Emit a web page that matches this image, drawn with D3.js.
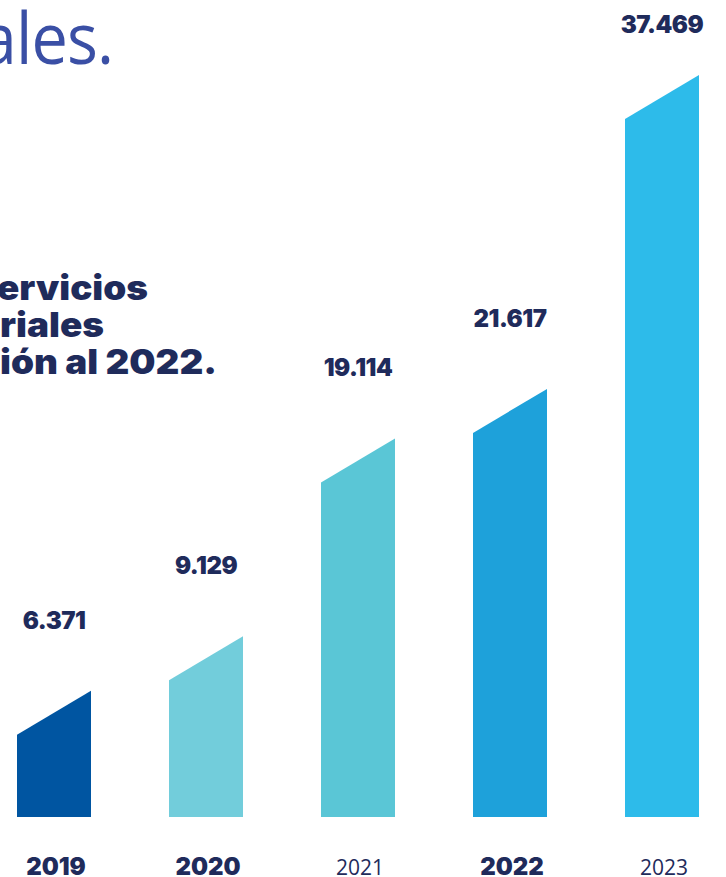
<!DOCTYPE html>
<html>
<head>
<meta charset="utf-8">
<script src="https://cdn.jsdelivr.net/npm/d3@7/dist/d3.min.js"></script>
<style>
  html, body { margin: 0; padding: 0; background: #ffffff; }
  svg { display: block; }
</style>
</head>
<body>
<svg id="chart" width="726" height="877"></svg>
<script>
// ---- data ----
const years = ["2019", "2020", "2021", "2022", "2023"];
const values = [6.371, 9.129, 19.114, 21.617, 37.469];
const valueLabels = ["6.371", "9.129", "19.114", "21.617", "37.469"];
const boldYears = [true, true, false, true, false];
const barColors = ["#0055a1", "#72cddb", "#5ac6d6", "#1ea1da", "#2dbbea"];
const titleText = "ales.";
const subtitleLines = ["ervicios", "riales", "ión al 2022."];

// ---- layout ----
const baseY = 817;
const topY = 75;
const slant = 44;
const navy = "#1f2b5b";

const svg = d3.select("#chart");

const x = d3.scaleBand()
  .domain(years)
  .range([17, 699])
  .paddingInner(78 / 152)
  .paddingOuter(0);

const y = d3.scaleLinear()
  .domain([0, d3.max(values)])
  .range([baseY, topY]);

const data = years.map((yr, i) => ({ year: yr, value: values[i], label: valueLabels[i], bold: boldYears[i], color: barColors[i] }));

// title fragment (cropped at the left edge)
svg.append("text")
  .attr("transform", "translate(113,64) scale(0.9,1)")
  .attr("text-anchor", "end")
  .attr("font-family", "'Open Sans', sans-serif")
  .attr("font-weight", 400)
  .attr("font-size", 72)
  .attr("letter-spacing", -1)
  .attr("fill", "#3a4fa5")
  .text(titleText);

// subtitle fragment (cropped at the left edge)
const subStart = [-3, 0, 0];
const subLen = [151, 104, 217];
const subBase = [300, 337, 374];
subtitleLines.forEach((t, i) => {
  svg.append("text")
    .attr("x", subStart[i]).attr("y", subBase[i])
    .attr("textLength", subLen[i])
    .attr("lengthAdjust", "spacingAndGlyphs")
    .attr("font-family", "Inter, 'Noto Sans', sans-serif")
    .attr("font-weight", 900)
    .attr("font-size", 34)
    .attr("fill", navy)
    .text(t);
});

// bars (slanted tops)
svg.selectAll("path.bar")
  .data(data)
  .join("path")
  .attr("class", "bar")
  .attr("fill", d => d.color)
  .attr("d", d => {
    const x0 = x(d.year), x1 = x0 + x.bandwidth();
    const yr = y(d.value);
    const yl = Math.min(baseY, yr + slant);
    return `M${x0},${baseY}L${x0},${yl}L${x1},${yr}L${x1},${baseY}Z`;
  });

// value labels
svg.selectAll("text.val")
  .data(data)
  .join("text")
  .attr("class", "val")
  .attr("x", d => x(d.year) + x.bandwidth() / 2)
  .attr("y", d => Math.max(33, y(d.value) - 62))
  .attr("text-anchor", "middle")
  .attr("font-family", "Inter, 'Noto Sans', sans-serif")
  .attr("font-weight", 900)
  .attr("font-size", 24)
  .attr("letter-spacing", -0.5)
  .attr("fill", navy)
  .text(d => d.label);

// year labels
svg.selectAll("text.year")
  .data(data)
  .join("text")
  .attr("class", "year")
  .attr("x", d => x(d.year) + x.bandwidth() / 2 + 2)
  .attr("y", 875)
  .attr("text-anchor", "middle")
  .attr("font-family", d => d.bold ? "Inter, 'Noto Sans', sans-serif" : "'Open Sans', sans-serif")
  .attr("font-weight", d => d.bold ? 900 : 400)
  .attr("font-size", d => d.bold ? 24 : 21)
  .attr("fill", navy)
  .text(d => d.year);
</script>
</body>
</html>
